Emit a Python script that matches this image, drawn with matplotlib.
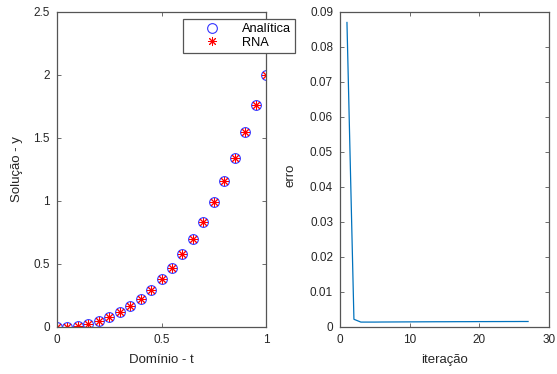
import matplotlib.pyplot as plt

plt.rcParams['font.family'] = ['Liberation Sans', 'DejaVu Sans']

## Data
t = [0.0, 0.05, 0.1, 0.15, 0.2, 0.25, 0.3, 0.35, 0.4, 0.45, 0.5,
     0.55, 0.6, 0.65, 0.7, 0.75, 0.8, 0.85, 0.9, 0.95, 1.0]
y_analitica = [0.0, 0.002, 0.008, 0.024, 0.045, 0.08, 0.117, 0.167, 0.223, 0.292, 0.377,
               0.472, 0.578, 0.697, 0.832, 0.989, 1.16, 1.34, 1.545, 1.76, 2.0]
y_rna = [0.0, 0.002, 0.008, 0.024, 0.045, 0.08, 0.117, 0.167, 0.223, 0.292, 0.377,
         0.472, 0.578, 0.697, 0.832, 0.989, 1.16, 1.34, 1.545, 1.76, 2.0]

iteracao = list(range(1, 28))
erro = [0.087, 0.0022, 0.0014, 0.0014, 0.0014, 0.00142, 0.00143, 0.00144, 0.00145,
        0.00146, 0.00147, 0.00148, 0.00149, 0.0015, 0.0015, 0.00151, 0.00152, 0.00152,
        0.00153, 0.00154, 0.00154, 0.00155, 0.00155, 0.00156, 0.00156, 0.00157, 0.00157]

axis_col = '#555555'
text_col = '#262626'


def style_axes(ax):
    for s in ax.spines.values():
        s.set_color(axis_col)
        s.set_linewidth(0.9)
    ax.tick_params(direction='in', top=True, right=True, length=3, pad=5,
                   colors=axis_col, labelcolor=text_col, labelsize=8.5, width=0.6)


fig = plt.figure(figsize=(5.57, 3.74), dpi=100)

## Left plot
ax1 = fig.add_axes([0.1023, 0.1257, 0.3753, 0.8423])
ax1.plot(t, y_analitica, 'o', mfc='none', mec='#3333ff', ms=7, mew=0.8, label='Analítica')
ax1.plot(t, y_rna, linestyle='none', marker=(8, 2, 0), color='red', ms=6.5, mew=0.7, label='RNA')
ax1.set_xlim(0, 1)
ax1.set_ylim(0, 2.5)
ax1.set_xticks([0, 0.5, 1])
ax1.set_xticklabels(['0', '0.5', '1'])
ax1.set_yticks([0, 0.5, 1, 1.5, 2, 2.5])
ax1.set_yticklabels(['0', '0.5', '1', '1.5', '2', '2.5'])
ax1.set_xlabel('Domínio - t', fontsize=9.5, color=text_col)
ax1.set_ylabel('Solução - y', fontsize=9.5, color=text_col)
ax1.xaxis.set_label_coords(0.5, -0.085)
ax1.yaxis.set_label_coords(-0.161, 0.5)
style_axes(ax1)
leg = ax1.legend(loc='upper left', bbox_to_anchor=(0.603, 0.978), fontsize=9.2,
                 fancybox=False, framealpha=1, edgecolor=axis_col,
                 handletextpad=0.43, borderpad=0.35, labelspacing=0.1, handlelength=3.83,
                 borderaxespad=0)
leg.get_frame().set_linewidth(0.9)

## Right plot
ax2 = fig.add_axes([0.6104, 0.1257, 0.3752, 0.8423])
ax2.plot(iteracao, erro, color='#0072BD', linewidth=0.9)
ax2.set_xlim(0, 30)
ax2.set_ylim(0, 0.09)
ax2.set_xticks([0, 10, 20, 30])
ax2.set_yticks([0, 0.01, 0.02, 0.03, 0.04, 0.05, 0.06, 0.07, 0.08, 0.09])
ax2.set_yticklabels(['0', '0.01', '0.02', '0.03', '0.04', '0.05', '0.06', '0.07', '0.08', '0.09'])
ax2.set_xlabel('iteração', fontsize=9.5, color=text_col)
ax2.set_ylabel('erro', fontsize=9.5, color=text_col)
ax2.xaxis.set_label_coords(0.5, -0.085)
ax2.yaxis.set_label_coords(-0.206, 0.48)
style_axes(ax2)

fig.savefig('out.png', dpi=100)
